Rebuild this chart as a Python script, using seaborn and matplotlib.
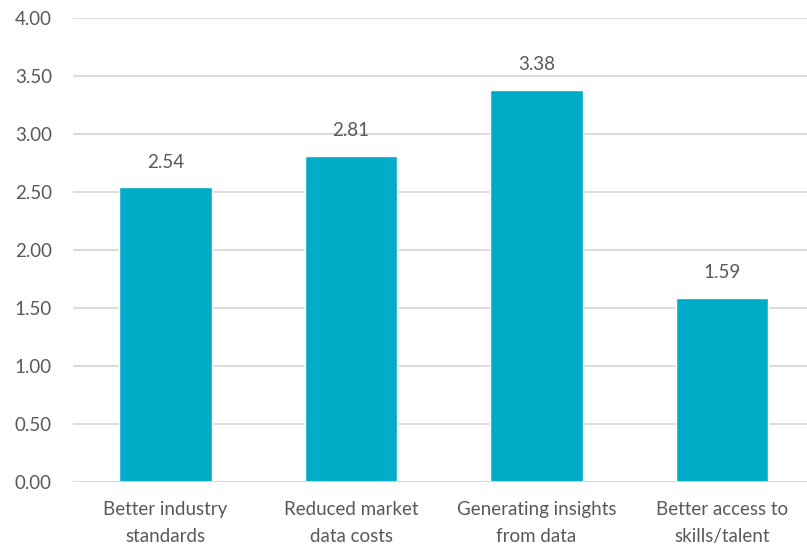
import matplotlib
matplotlib.use("Agg")
import matplotlib.pyplot as plt
import seaborn as sns
import pandas as pd

categories = [
    "Better industry\nstandards",
    "Reduced market\ndata costs",
    "Generating insights\nfrom data",
    "Better access to\nskills/talent",
]
scores = [2.54, 2.81, 3.38, 1.59]
y_ticks = [0.0, 0.5, 1.0, 1.5, 2.0, 2.5, 3.0, 3.5, 4.0]

bar_color = "#00ACC8"
text_color = "#595959"
grid_color = "#D9D9D9"

sns.set_theme(style="white")
plt.rcParams["font.family"] = ["Lato", "DejaVu Sans"]

df = pd.DataFrame({"category": categories, "score": scores})

fig = plt.figure(figsize=(8.07, 5.45), dpi=100)
ax = fig.add_axes([72.75 / 807, 63 / 545, 742 / 807, 464 / 545])

sns.barplot(data=df, x="category", y="score", color=bar_color,
            saturation=1, width=0.5, ax=ax, zorder=3)

ax.set_ylim(0, 4.0)
ax.set_yticks(y_ticks)
ax.set_yticklabels([f"{v:.2f}" for v in y_ticks])
ax.set_xlim(-0.5, len(categories) - 0.5)
ax.yaxis.grid(True, color=grid_color, linewidth=1.3, zorder=0)
ax.set_axisbelow(True)
for side in ["top", "right", "left", "bottom"]:
    ax.spines[side].set_visible(False)
ax.axhline(0, color=grid_color, linewidth=1.3, zorder=4)

fs = 13.5
ax.set_xlabel("")
ax.set_ylabel("")
ax.tick_params(axis="y", length=0, pad=15, labelsize=fs, labelcolor=text_color)
ax.tick_params(axis="x", length=0, pad=14, labelsize=fs, labelcolor=text_color)
for lbl in ax.get_xticklabels():
    lbl.set_linespacing(1.65)

for container in ax.containers:
    ax.bar_label(container, labels=[f"{v:.2f}" for v in scores],
                 padding=12, fontsize=fs, color=text_color)

fig.savefig("out.png", dpi=100)
